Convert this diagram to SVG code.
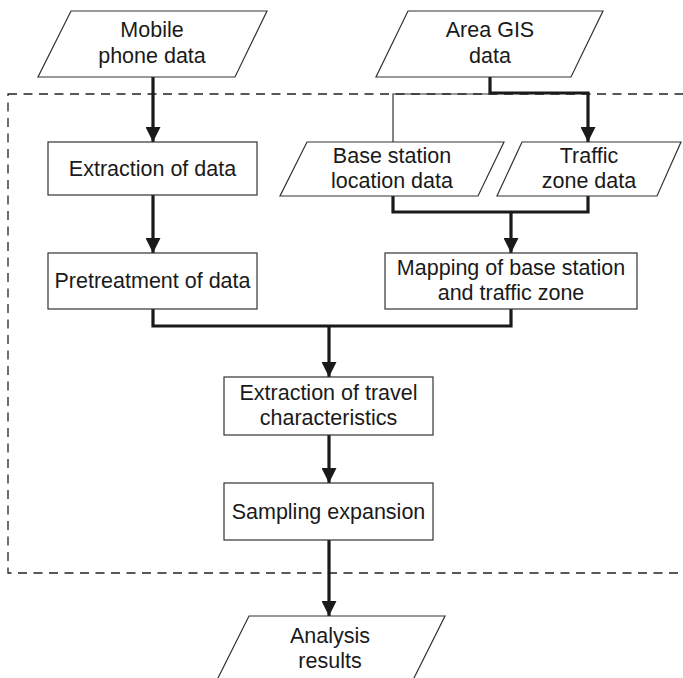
<svg xmlns="http://www.w3.org/2000/svg" width="683" height="678" viewBox="0 0 683 678">
<style>
  .shape { fill: #ffffff; stroke: #333333; stroke-width: 1.2; }
  .lbl { font-family: "Liberation Sans", Arial, Helvetica, sans-serif; font-size: 21.5px; fill: #1a1a1a; text-anchor: middle; }
  .thick { fill: none; stroke: #1a1a1a; stroke-width: 3.2; }
  .thin { fill: none; stroke: #333333; stroke-width: 1.2; }
  .dash { fill: none; stroke: #222222; stroke-width: 1.3; stroke-dasharray: 9 6.5; }
</style>
<defs>
  <marker id="arrow" markerUnits="userSpaceOnUse" markerWidth="15" markerHeight="15" refX="15" refY="7.5" orient="auto">
    <path d="M0,0 L15,7.5 L0,15 z" fill="#1a1a1a"/>
  </marker>
</defs>
<rect id="boundary" class="dash" x="8" y="94" width="700" height="479"/>
<g id="connectors">
  <path class="thick" d="M153,77 V142" marker-end="url(#arrow)"/>
  <path class="thick" d="M153,195 V253" marker-end="url(#arrow)"/>
  <path class="thick" d="M490,77 V93 H588 V142" marker-end="url(#arrow)"/>
  <path class="thin" d="M490,94 H393 V142"/>
  <path class="thick" d="M393,196 V212 H588 V196"/>
  <path class="thick" d="M511,212 V253" marker-end="url(#arrow)"/>
  <path class="thick" d="M153,309 V326 H511 V309"/>
  <path class="thick" d="M329,326 V377" marker-end="url(#arrow)"/>
  <path class="thick" d="M329,435 V483" marker-end="url(#arrow)"/>
  <path class="thick" d="M329,540 V616" marker-end="url(#arrow)"/>
</g>
<g id="mobile">
  <polygon class="shape" points="71,11 267,11 235,77 38,77"/>
  <text class="lbl" x="152" y="37">Mobile</text>
  <text class="lbl" x="152" y="63">phone data</text>
</g>
<g id="areagis">
  <polygon class="shape" points="408,11 603,11 571,77 376,77"/>
  <text class="lbl" x="490" y="37">Area GIS</text>
  <text class="lbl" x="490" y="63">data</text>
</g>
<g id="extraction">
  <rect class="shape" x="48" y="142" width="209" height="53"/>
  <text class="lbl" x="152.5" y="176">Extraction of data</text>
</g>
<g id="basestation">
  <polygon class="shape" points="307,142 504,142 478,196 280,196"/>
  <text class="lbl" x="392" y="163">Base station</text>
  <text class="lbl" x="392" y="188">location data</text>
</g>
<g id="trafficzone">
  <polygon class="shape" points="522,142 681,142 657,196 497,196"/>
  <text class="lbl" x="589" y="163">Traffic</text>
  <text class="lbl" x="589" y="188">zone data</text>
</g>
<g id="pretreatment">
  <rect class="shape" x="48" y="253" width="209" height="56"/>
  <text class="lbl" x="152.5" y="288">Pretreatment of data</text>
</g>
<g id="mapping">
  <rect class="shape" x="385" y="253" width="252" height="56"/>
  <text class="lbl" x="511" y="274.5">Mapping of base station</text>
  <text class="lbl" x="511" y="300">and traffic zone</text>
</g>
<g id="travel">
  <rect class="shape" x="224" y="377" width="209" height="58"/>
  <text class="lbl" x="328.5" y="400">Extraction of travel</text>
  <text class="lbl" x="328.5" y="425">characteristics</text>
</g>
<g id="sampling">
  <rect class="shape" x="224" y="483" width="209" height="57"/>
  <text class="lbl" x="328.5" y="518.5">Sampling expansion</text>
</g>
<g id="analysis">
  <polygon class="shape" points="249,616 445,616 412,682 216,682"/>
  <text class="lbl" x="330" y="643">Analysis</text>
  <text class="lbl" x="330" y="668">results</text>
</g>
</svg>
